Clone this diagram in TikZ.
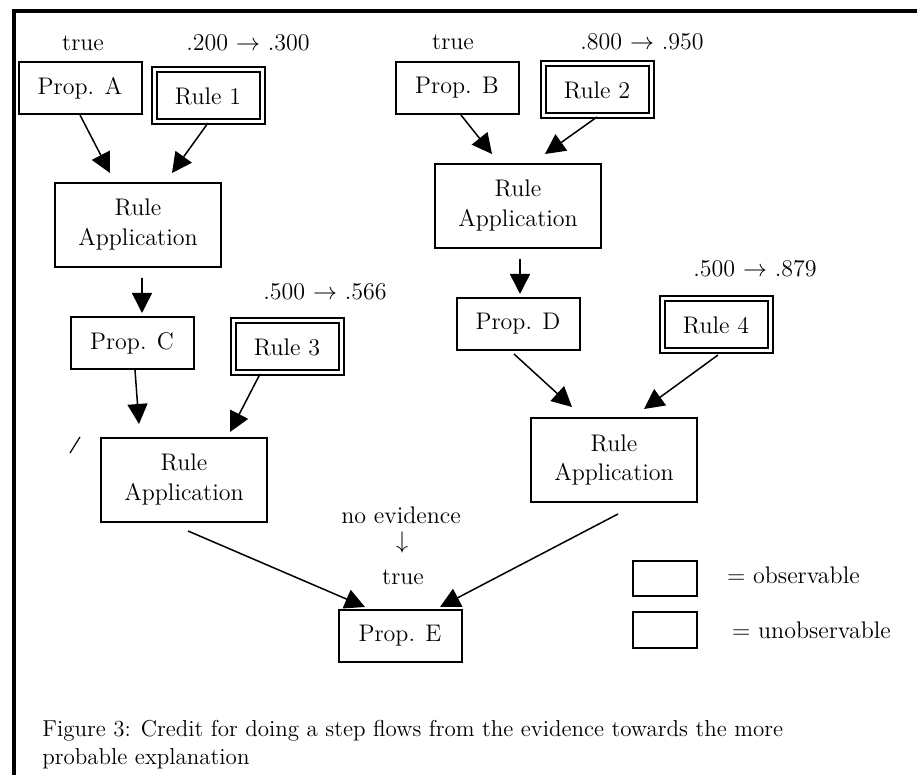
\documentclass[tikz,border=0pt]{standalone}
\usetikzlibrary{arrows.meta,calc}

\tikzset{
	propbox/.style = {shape=rectangle, draw, line width=1pt,
			minimum width=61.5pt, minimum height=26pt,
			font=\fontsize{12}{15}\selectfont},
	rulebox/.style = {shape=rectangle, draw, line width=1pt,
			double, double distance=1.5pt,
			minimum width=54pt, minimum height=26pt,
			font=\fontsize{12}{15}\selectfont},
	appbox/.style  = {propbox, align=center, minimum width=83pt, minimum height=42pt},
	keybox/.style  = {shape=rectangle, draw, line width=1pt,
			minimum width=32pt, minimum height=17.5pt},
	lbl/.style     = {font=\fontsize{12}{14}\selectfont},
	flow/.style    = {-{Triangle[length=10pt,width=10pt]}, line width=0.75pt}
}

\begin{document}
\begin{tikzpicture}
		[x=0.5pt, y=-0.5pt]
		\useasboundingbox (0,0) rectangle (917,775);
		% frame
		\draw[line width=2pt] (14,775) -- (14,11.5) -- (917,11.5);

		% left branch
		\node[propbox] (propA) at (80,88)  {Prop. A};
		\node[rulebox] (rule1) at (208,96) {Rule 1};
		\node[appbox]  (app1)  at (138,225) {Rule\\Application};
		\node[propbox] (propC) at (132,343) {Prop. C};
		\node[rulebox] (rule3) at (287,347) {Rule 3};
		\node[appbox]  (app3)  at (184,480) {Rule\\Application};

		% right branch
		\node[propbox] (propB) at (457,88)  {Prop. B};
		\node[rulebox] (rule2) at (597,90)  {Rule 2};
		\node[appbox]  (app2)  at (518,206) {Rule\\Application};
		\node[propbox] (propD) at (518,324) {Prop. D};
		\node[rulebox] (rule4) at (716,325) {Rule 4};
		\node[appbox]  (app4)  at (614,460) {Rule\\Application};

		\node[propbox] (propE) at (400,636) {Prop. E};

		% values
		\node[lbl] (trueA) at (83,43)   {true};
		\node[lbl] (val1)  at (248,43)  {.200 $\rightarrow$ .300};
		\node[lbl] (trueB) at (453,42)  {true};
		\node[lbl] (val2)  at (642,42)  {.800 $\rightarrow$ .950};
		\node[lbl] (val3)  at (325,292) {.500 $\rightarrow$ .566};
		\node[lbl] (val4)  at (755,269) {.500 $\rightarrow$ .879};
		\node[lbl] (noev)  at (401,515) {no evidence};
		\node[lbl] (down)  at (402,543) {$\downarrow$};
		\node[lbl] (trueE) at (403,577) {true};

		% edges
		\draw[flow] (propA.south) -- ($(app1.north)+(-28,-9)$);
		\draw[flow] (rule1.south) -- ($(app1.north)+(34,-9)$);
		\draw[flow] ($(app1.south)+(4,10)$) -- ($(propC.north)+(10,-3)$);
		\draw[flow] ($(propC.south)+(3,0)$) -- ($(app3.north)+(-45,-13)$);
		\draw[flow] ($(rule3.south)+(-27,0)$) -- ($(app3.north)+(46,-5)$);
		\draw[flow] ($(propB.south)+(4,0)$) -- ($(app2.north)+(-26,-9)$);
		\draw[flow] (rule2.south) -- ($(app2.north)+(27,-9)$);
		\draw[flow] ($(app2.south)+(2,10)$) -- ($(propD.north)+(2,-3)$);
		\draw[flow] ($(propD.south)+(-4,3)$) -- ($(app4.north)+(-42,-10)$);
		\draw[flow] ($(rule4.south)+(2,3)$) -- ($(app4.north)+(30,-8)$);
		\draw[flow] ($(app3.south)+(4,8)$) -- ($(propE.north)+(-35,-2)$);
		\draw[flow] ($(app4.south)+(4,11)$) -- ($(propE.north)+(40,-2)$);

		\draw[line width=0.6pt] (70,453) -- (80,437);

		% legend
		\node[keybox] (key1) at (665,579) {};
		\node[lbl, anchor=west] (key1txt) at (720,575) {= observable};
		\node[keybox] (key2) at (665,630) {};
		\node[lbl, anchor=west] (key2txt) at (725,630) {= unobservable};

		\node[anchor=north west, align=left, inner sep=0pt,
			font=\fontsize{11.5}{14}\selectfont] (caption) at (42,720)
			{Figure 3: Credit for doing a step flows from the evidence towards the more\\probable explanation};
\end{tikzpicture}
\end{document}
